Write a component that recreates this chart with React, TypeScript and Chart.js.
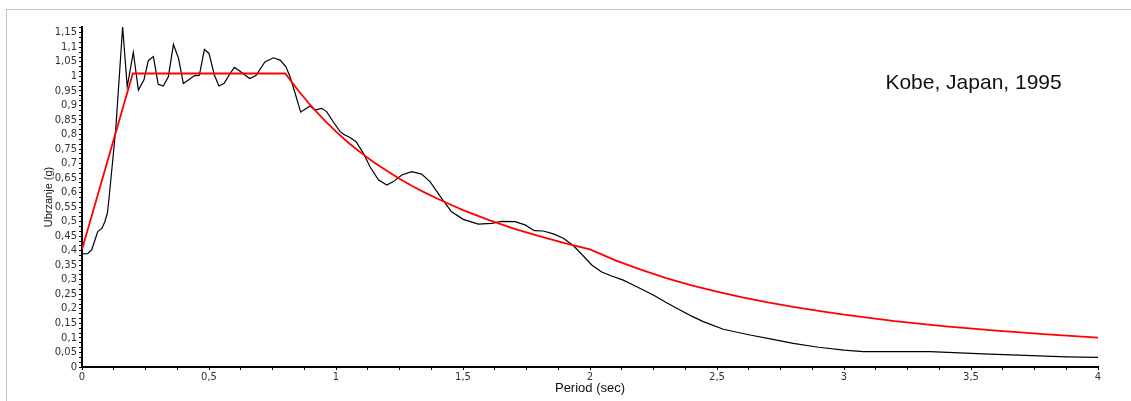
import React, { useEffect, useRef } from "react";
import { Chart, registerables } from "chart.js";

Chart.register(...registerables);

// Recorded spectrum (black)
const recordPeriods = [
  0, 0.022, 0.038, 0.051, 0.062, 0.078, 0.09, 0.1, 0.107, 0.113, 0.133, 0.16, 0.178, 0.202,
  0.222, 0.244, 0.261, 0.281, 0.3, 0.32, 0.34, 0.36, 0.38, 0.399, 0.419, 0.442, 0.462, 0.482,
  0.5, 0.521, 0.539, 0.56, 0.583, 0.6, 0.622, 0.66, 0.685, 0.72, 0.753, 0.78, 0.803, 0.819,
  0.839, 0.861, 0.878, 0.898, 0.917, 0.944, 0.963, 0.989, 1.016, 1.035, 1.055, 1.079, 1.108,
  1.134, 1.167, 1.2, 1.226, 1.259, 1.298, 1.337, 1.37, 1.416, 1.455, 1.501, 1.56, 1.613, 1.652,
  1.705, 1.744, 1.781, 1.816, 1.856, 1.895, 1.934, 1.974, 2.007, 2.046, 2.085, 2.131, 2.17,
  2.21, 2.249, 2.3, 2.354, 2.4, 2.446, 2.525, 2.63, 2.72, 2.8, 2.9, 3.0, 3.076, 3.339, 3.548,
  3.877, 4.0,
];
const recordAccel = [
  0.389, 0.39, 0.403, 0.437, 0.466, 0.477, 0.5, 0.53, 0.586, 0.64, 0.82, 1.17, 0.965, 1.083,
  0.953, 0.988, 1.054, 1.068, 0.973, 0.967, 0.999, 1.11, 1.062, 0.976, 0.988, 1.002, 1.004, 1.093,
  1.079, 1.005, 0.967, 0.976, 1.01, 1.031, 1.018, 0.993, 1.003, 1.05, 1.064, 1.056, 1.033, 0.999,
  0.942, 0.877, 0.887, 0.898, 0.884, 0.89, 0.879, 0.844, 0.81, 0.798, 0.79, 0.775, 0.735,
  0.689, 0.644, 0.626, 0.638, 0.661, 0.672, 0.664, 0.638, 0.58, 0.534, 0.508, 0.492, 0.494, 0.501,
  0.5, 0.489, 0.469, 0.468, 0.458, 0.443, 0.418, 0.382, 0.351, 0.327, 0.313, 0.299, 0.282,
  0.265, 0.248, 0.222, 0.196, 0.175, 0.156, 0.13, 0.11, 0.095, 0.081, 0.068, 0.058, 0.053, 0.053, 0.045,
  0.035, 0.033,
];

// Design spectrum (red)
const designPeriods = [
  0, 0.2, 0.8, 0.85, 0.9, 0.95, 1.0, 1.05, 1.1, 1.15, 1.2, 1.25, 1.3, 1.35, 1.4, 1.45, 1.5,
  1.6, 1.7, 1.8, 1.9, 2.0, 2.1, 2.2, 2.3, 2.4, 2.5, 2.6, 2.7, 2.8, 2.9, 3.0, 3.2, 3.4, 3.6,
  3.8, 4.0,
];
const designAccel = [
  0.404, 1.01, 1.01, 0.953, 0.9, 0.853, 0.81, 0.771, 0.736, 0.704, 0.675, 0.648, 0.623, 0.6,
  0.579, 0.559, 0.54, 0.506, 0.476, 0.45, 0.426, 0.405, 0.367, 0.335, 0.306, 0.281, 0.259,
  0.24, 0.222, 0.207, 0.193, 0.18, 0.158, 0.14, 0.125, 0.112, 0.101,
];

const xMin = 0;
const xMax = 4;
const xMinorStep = 0.125;
const xLabelEvery = 4;
const yMin = 0;
const yMax = 1.17;
const yMinorStep = 0.05 / 3;
const yLabelEvery = 3;

const annotationText = "Kobe, Japan, 1995";
const xTitle = "Period (sec)";
const yTitle = "Ubrzanje (g)";

const fmt = (v: number) => {
  const r = Math.round(v * 100) / 100;
  return String(r).replace(".", ",");
};

export default function App() {
  const canvasRef = useRef<HTMLCanvasElement | null>(null);

  useEffect(() => {
    if (!canvasRef.current) return;
    const annotation = {
      id: "annotation",
      afterDraw(chart: any) {
        const { ctx, scales } = chart;
        const x = scales.x.getPixelForValue(3.51);
        const y = scales.y.getPixelForValue(0.975);
        ctx.save();
        ctx.font = '21px "Liberation Sans", Arial, sans-serif';
        ctx.fillStyle = "#111";
        ctx.textAlign = "center";
        ctx.textBaseline = "middle";
        ctx.fillText(annotationText, x, y);
        ctx.restore();
      },
    };

    const chart = new Chart(canvasRef.current, {
      type: "line",
      data: {
        datasets: [
          {
            label: "Design",
            data: designPeriods.map((t, i) => ({ x: t, y: designAccel[i] })),
            borderColor: "#ff0000",
            borderWidth: 1.8,
            pointRadius: 0,
            tension: 0,
          },
          {
            label: "Kobe",
            data: recordPeriods.map((t, i) => ({ x: t, y: recordAccel[i] })),
            borderColor: "#000000",
            borderWidth: 1.2,
            pointRadius: 0,
            tension: 0,
          },
        ],
      },
      options: {
        animation: false,
        responsive: true,
        maintainAspectRatio: false,
        layout: { padding: { top: 27, right: 33, left: 0, bottom: 0 } },
        plugins: {
          legend: { display: false },
          tooltip: { enabled: false },
        },
        scales: {
          x: {
            type: "linear",
            min: xMin,
            max: xMax,
            afterBuildTicks: (s: any) => {
              const t = [];
              const n = Math.round((xMax - xMin) / xMinorStep);
              for (let i = 0; i <= n; i++) t.push({ value: xMin + i * xMinorStep });
              s.ticks = t;
            },
            afterFit: (s: any) => {
              s.height = 34;
            },
            ticks: {
              autoSkip: false,
              maxRotation: 0,
              padding: 1,
              color: "#333",
              font: { family: '"DejaVu Sans", sans-serif', size: 10 },
              callback: (v: any, i: number) => (i % xLabelEvery === 0 ? fmt(Number(v)) : ""),
            },
            grid: {
              drawOnChartArea: false,
              drawTicks: true,
              tickLength: 3,
              color: "#000",
              lineWidth: 1,
            },
            border: { color: "#000", width: 2 },
            title: {
              display: true,
              text: xTitle,
              color: "#111",
              font: { family: '"Liberation Sans", Arial, sans-serif', size: 13 },
              padding: { top: 0, bottom: 5 },
            },
          },
          y: {
            type: "linear",
            min: yMin,
            max: yMax,
            afterBuildTicks: (s: any) => {
              const t = [];
              const n = Math.floor((yMax - yMin) / yMinorStep + 1e-6);
              for (let i = 0; i <= n; i++) t.push({ value: yMin + i * yMinorStep });
              s.ticks = t;
            },
            afterFit: (s: any) => {
              s.width = 82;
            },
            ticks: {
              autoSkip: false,
              padding: 2,
              color: "#333",
              font: { family: '"DejaVu Sans", sans-serif', size: 10 },
              callback: (v: any, i: number) => (i % yLabelEvery === 0 ? fmt(Number(v)) : ""),
            },
            grid: {
              drawOnChartArea: false,
              drawTicks: true,
              tickLength: 3,
              color: "#000",
              lineWidth: 1,
            },
            border: { color: "#000", width: 2 },
            title: {
              display: true,
              text: yTitle,
              color: "#111",
              font: { family: '"Liberation Sans", Arial, sans-serif', size: 11 },
              padding: { top: 42, bottom: 0 },
            },
          },
        },
      },
      plugins: [annotation],
    });
    return () => chart.destroy();
  }, []);

  return (
    <div
      style={{
        position: "fixed",
        left: 0,
        top: 0,
        width: 1131,
        height: 401,
        background: "#fff",
      }}
    >
      <div
        style={{
          position: "absolute",
          left: 6,
          top: 9,
          right: 0,
          bottom: 0,
          borderTop: "1px solid #c4c4c4",
          borderLeft: "1px solid #c4c4c4",
        }}
      />
      <canvas ref={canvasRef} style={{ position: "absolute", left: 0, top: 0 }} />
    </div>
  );
}
